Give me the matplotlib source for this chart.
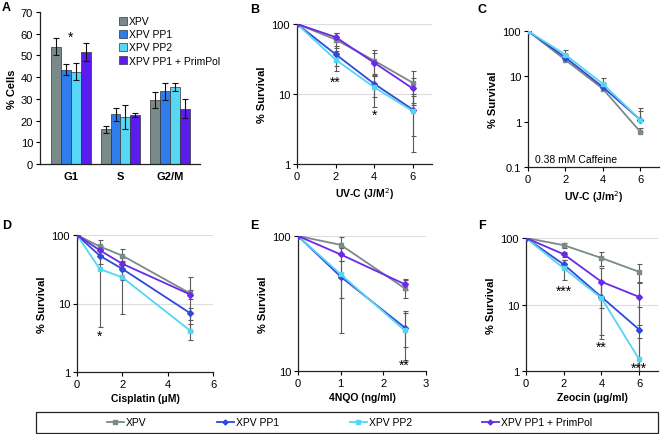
import numpy as np
import matplotlib.pyplot as plt
from matplotlib.lines import Line2D
from matplotlib.patches import Patch, Rectangle

plt.rcParams['font.family'] = ['Liberation Sans', 'DejaVu Sans']
plt.rcParams['font.size'] = 7

W, H = 661, 435

# colours
col_xpv = '#7a8a8a'
col_pp1 = '#2f49d8'
col_pp2 = '#55d4f4'
col_pol = '#6a2ae6'
bar_cols = ['#798a89', '#2f7ded', '#57d7f6', '#5b1cf0']
err_col = '#5a5a5a'
marks = {col_xpv: 's', col_pp1: 'D', col_pp2: 's', col_pol: 'D'}

names = ['XPV', 'XPV PP1', 'XPV PP2', 'XPV PP1 + PrimPol']

# panel A - cell cycle
phases = ['G1', 'S', 'G2/M']
a_xpv = [54, 16, 29.5]
a_pp1 = [43.5, 23, 33.5]
a_pp2 = [42.5, 21.5, 35.5]
a_pol = [51.5, 22.5, 25.5]
a_xpv_e = [4, 1.5, 3.5]
a_pp1_e = [2.5, 3, 4]
a_pp2_e = [4, 5.5, 2]
a_pol_e = [4, 1, 4.5]

# panel B - UV-C
b_x = [0, 2, 4, 6]
b_xpv = [100, 60, 30, 14.5]
b_pp1 = [100, 37, 14, 6]
b_pp2 = [100, 31, 12.5, 5.7]
b_pol = [100, 65, 28, 12]
b_xpv_e = [0, 15, 12, 7]
b_pp1_e = [0, 12, 5, 3.5]
b_pp2_e = [0, 10, 6, 4.2]
b_pol_e = [0, 10, 10, 5]

# panel C - UV-C + caffeine (upper error bars only)
c_x = [0, 2, 4, 6]
c_xpv = [100, 23, 5.3, 0.6]
c_pp1 = [100, 26, 5.8, 1.1]
c_pp2 = [100, 30, 6.8, 1.1]
c_xpv_e = [0, 3, 0.8, 0.12]
c_pp1_e = [0, 5, 1.5, 0.9]
c_pp2_e = [0, 8, 2.2, 0.6]

# panel D - cisplatin
d_x = [0, 1, 2, 5]
d_xpv = [100, 68, 50, 14]
d_pp1 = [100, 50, 32, 7.2]
d_pp2 = [100, 32, 24, 4]
d_pol = [100, 60, 38, 13.5]
d_xpv_e = [0, 17, 12, 10]
d_pp1_e = [0, 12, 10, 1.5]
d_pp2_e = [0, 27.5, 17, 1.1]
d_pol_e = [0, 10, 8, 2]

# panel E - 4NQO
e_x = [0, 1, 2.5]
e_xpv = [100, 86, 41]
e_pp1 = [100, 50, 21]
e_pp2 = [100, 52, 20]
e_pol = [100, 73, 44]
e_xpv_e = [0, 12, 6]
e_pp1_e = [0, 15, 6]
e_pp2_e = [0, 33, 8]
e_pol_e = [0, 8, 4]

# panel F - zeocin
f_x = [0, 2, 4, 6]
f_xpv = [100, 78, 50, 31]
f_pp1 = [100, 40, 13, 4.2]
f_pp2 = [100, 35, 12.5, 1.5]
f_pol = [100, 57, 22, 13]
f_xpv_e = [0, 7, 12, 9]
f_pp1_e = [0, 6, 9.5, 5]
f_pp2_e = [0, 12, 9.5, 1.6]
f_pol_e = [0, 5, 13, 8]


def box(l, t, r, b):
    return [l / W, 1 - b / H, (r - l) / W, (b - t) / H]


fig = plt.figure(figsize=(W / 100, H / 100), dpi=100)


def style(ax):
    for s in ['top', 'right']:
        ax.spines[s].set_visible(False)
    for s in ['left', 'bottom']:
        ax.spines[s].set_color('#222222')
        ax.spines[s].set_linewidth(0.9)
    ax.tick_params(length=3, width=0.8, pad=2, labelsize=8)


def survival(ax, x, series, xlim, xticks, ylim, yticks, xlabel, grid, upper_only=False):
    style(ax)
    ax.set_yscale('log')
    for g in grid:
        ax.axhline(g, color='#dddddd', lw=0.8, zorder=0)
    for y, e, col in series:
        y = np.array(y, float)
        e = np.array(e, float)
        lo = np.zeros_like(e) if upper_only else np.minimum(e, y * 0.9999)
        ax.errorbar(x, y, yerr=[lo, e], fmt='none', ecolor=err_col,
                    elinewidth=0.8, capsize=1.8, capthick=0.8, zorder=2)
    for y, e, col in series:
        ax.plot(x, y, color=col, lw=1.3, marker=marks[col], ms=3,
                mec=col, zorder=3)
    ax.set_xlim(*xlim)
    ax.set_ylim(*ylim)
    ax.set_xticks(xticks)
    ax.set_yticks(yticks)
    ax.set_yticklabels([f'{v:g}' for v in yticks])
    ax.minorticks_off()
    ax.set_ylabel('% Survival', fontweight='bold', fontsize=8, labelpad=3)
    ax.set_xlabel(xlabel, fontweight='bold', fontsize=7.5, labelpad=3)


# ---- A
axA = fig.add_axes(box(40, 13, 200, 165))
style(axA)
xs = np.arange(len(phases))
bw = 0.2
vals = [a_xpv, a_pp1, a_pp2, a_pol]
errs = [a_xpv_e, a_pp1_e, a_pp2_e, a_pol_e]
for i in range(4):
    axA.bar(xs + (i - 1.5) * bw, vals[i], bw, color=bar_cols[i],
            edgecolor='#333333', lw=0.5, yerr=errs[i],
            error_kw=dict(ecolor='#111111', elinewidth=0.8, capsize=2, capthick=0.8),
            label=names[i])
axA.set_xlim(-0.62, 2.6)
axA.set_ylim(0, 70)
axA.set_yticks(range(0, 71, 10))
axA.set_xticks(xs)
axA.set_xticklabels(phases, fontweight='bold', fontsize=8)
axA.tick_params(axis='x', length=0, pad=5)
axA.set_ylabel('% Cells', fontweight='bold', fontsize=8, labelpad=3)
axA.text(xs[0], 58.5, '*', ha='center', va='center', fontsize=10)
axA.legend(handles=[Patch(facecolor=bar_cols[i], edgecolor='#333333', lw=0.5)
                    for i in range(4)], labels=names,
           loc='upper left', bbox_to_anchor=(0.47, 1.0), frameon=False,
           fontsize=7.5, handlelength=0.7, handleheight=0.8,
           handletextpad=0.25, labelspacing=0.3, borderaxespad=0)

# ---- B
axB = fig.add_axes(box(297, 25, 432, 165))
survival(axB, b_x, [(b_xpv, b_xpv_e, col_xpv), (b_pp1, b_pp1_e, col_pp1),
                    (b_pp2, b_pp2_e, col_pp2), (b_pol, b_pol_e, col_pol)],
         (0, 7), [0, 2, 4, 6], (1, 100), [1, 10, 100], 'UV-C (J/M$^2$)', [10, 100])
axB.text(2, 15, '**', ha='center', va='center', fontsize=10)
axB.text(4, 5.0, '*', ha='center', va='center', fontsize=10)

# ---- C
axC = fig.add_axes(box(528, 32, 659, 168))
survival(axC, c_x, [(c_xpv, c_xpv_e, col_xpv), (c_pp1, c_pp1_e, col_pp1),
                    (c_pp2, c_pp2_e, col_pp2)],
         (0, 7), [0, 2, 4, 6], (0.1, 100), [0.1, 1, 10, 100], 'UV-C (J/m$^2$)', [],
         upper_only=True)
axC.text(0.4, 0.15, '0.38 mM Caffeine', ha='left', va='center', fontsize=7.5)

# ---- D
axD = fig.add_axes(box(77, 236, 213, 373))
survival(axD, d_x, [(d_xpv, d_xpv_e, col_xpv), (d_pp1, d_pp1_e, col_pp1),
                    (d_pp2, d_pp2_e, col_pp2), (d_pol, d_pol_e, col_pol)],
         (0, 6), [0, 2, 4, 6], (1, 100), [1, 10, 100], 'Cisplatin (μM)', [10, 100])
axD.text(1, 3.4, '*', ha='center', va='center', fontsize=10)

# ---- E
axE = fig.add_axes(box(298, 237, 426, 372))
survival(axE, e_x, [(e_xpv, e_xpv_e, col_xpv), (e_pp1, e_pp1_e, col_pp1),
                    (e_pp2, e_pp2_e, col_pp2), (e_pol, e_pol_e, col_pol)],
         (0, 3), [0, 1, 2, 3], (10, 100), [10, 100], '4NQO (ng/ml)', [100])
axE.text(2.5, 11.2, '**', ha='center', va='center', fontsize=10)

# ---- F
axF = fig.add_axes(box(526, 239, 658, 372))
survival(axF, f_x, [(f_xpv, f_xpv_e, col_xpv), (f_pp1, f_pp1_e, col_pp1),
                    (f_pp2, f_pp2_e, col_pp2), (f_pol, f_pol_e, col_pol)],
         (0, 7), [0, 2, 4, 6], (1, 100), [1, 10, 100], 'Zeocin (μg/ml)', [10, 100])
axF.text(2, 16, '***', ha='center', va='center', fontsize=10)
axF.text(4, 2.3, '**', ha='center', va='center', fontsize=10)
axF.text(6, 1.12, '***', ha='center', va='center', fontsize=10)

# panel letters
for lab, x, y in [('A', 2, 8), ('B', 250, 10), ('C', 478, 10),
                  ('D', 2, 226), ('E', 250, 226), ('F', 478, 226)]:
    fig.text(x / W, 1 - y / H, lab, fontweight='bold', fontsize=9,
             ha='left', va='center')

# bottom legend
fig.patches.append(Rectangle((36 / W, 1 - 434 / H), 622 / W, 21 / H,
                             transform=fig.transFigure, fill=False,
                             edgecolor='#222222', lw=0.9))
styles = [(col_xpv, 's'), (col_pp1, 'D'), (col_pp2, 's'), (col_pol, 'D')]
leg_x = [107, 217, 350, 482]
for (c, m), nm, lx in zip(styles, names, leg_x):
    h = Line2D([], [], color=c, marker=m, ms=2.5, lw=1.3)
    fig.legend([h], [nm], loc='center left', frameon=False,
               bbox_to_anchor=(lx / W, 1 - 423.5 / H), fontsize=7.5,
               handlelength=1.6, handletextpad=0.2, borderpad=0,
               borderaxespad=0)

fig.savefig('out.png', dpi=100)
